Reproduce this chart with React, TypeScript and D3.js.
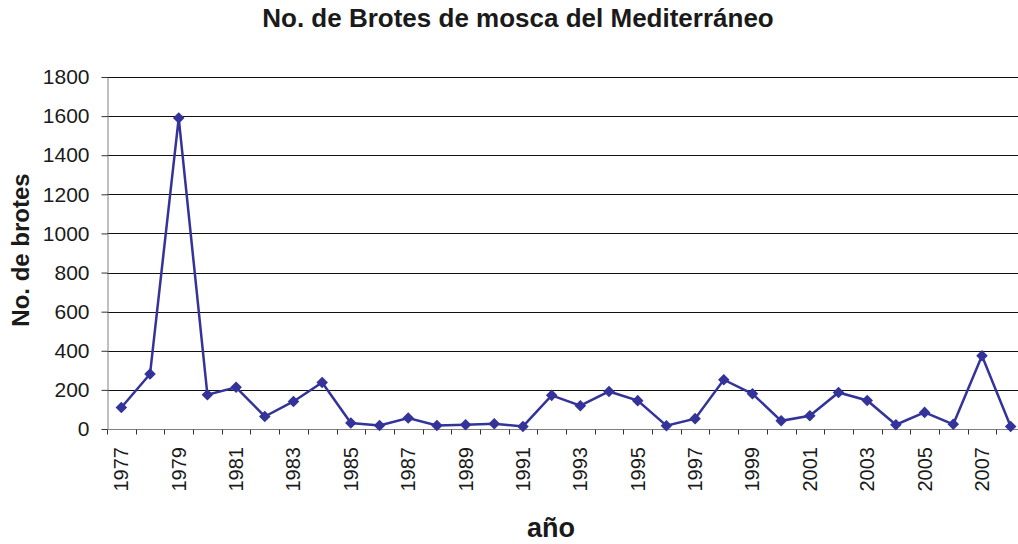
import React, { useEffect, useRef } from 'react';
import * as d3 from 'd3';

const years = d3.range(1977, 2009).map(String);
const brotes = [
  110, 281, 1590, 175, 213, 64, 141, 238, 31, 18,
  56, 18, 22, 27, 13, 172, 119, 192, 145, 17,
  53, 252, 180, 42, 68, 187, 146, 22, 85, 24,
  375, 13,
];
const yTicks = [0, 200, 400, 600, 800, 1000, 1200, 1400, 1600, 1800];
const xLabels = years.filter((d, i) => i % 2 === 0);

const width = 1018;
const height = 544;
const margin = { top: 77, right: -7, bottom: 115, left: 107 };
const font = 'Arial, "Liberation Sans", sans-serif';

function Chart() {
  const node = useRef<SVGSVGElement | null>(null);

  useEffect(() => {
    const svg = d3.select(node.current);
    svg.selectAll('*').remove();

    const x = d3.scaleBand<string>()
      .domain(years)
      .range([margin.left, width - margin.right]);
    const y = d3.scaleLinear()
      .domain([0, 1800])
      .range([height - margin.bottom, margin.top]);

    // gridlines
    svg.append('g')
      .selectAll('line')
      .data(yTicks.filter(d => d > 0))
      .enter()
      .append('line')
      .attr('x1', margin.left)
      .attr('x2', width - margin.right)
      .attr('y1', d => Math.round(y(d)) + 0.5)
      .attr('y2', d => Math.round(y(d)) + 0.5)
      .attr('stroke', '#111')
      .attr('stroke-width', 1);

    // y axis
    const yAxis = svg.append('g')
      .attr('transform', `translate(${margin.left + 0.5}, 0)`)
      .call(d3.axisLeft(y).tickValues(yTicks).tickFormat(d3.format('d')).tickSize(6).tickPadding(12).tickSizeOuter(0));
    yAxis.select('.domain').attr('stroke', '#808080');
    yAxis.selectAll('.tick line').attr('stroke', '#333');
    yAxis.selectAll('.tick text')
      .attr('font-family', font)
      .attr('font-size', 21)
      .attr('fill', '#1a1a1a');

    // x axis: ticks on category boundaries
    const baseY = Math.round(y(0)) + 0.5;
    svg.append('line')
      .attr('x1', margin.left)
      .attr('x2', width - margin.right)
      .attr('y1', baseY)
      .attr('y2', baseY)
      .attr('stroke', '#808080');
    svg.append('g')
      .selectAll('line')
      .data(years)
      .enter()
      .append('line')
      .attr('x1', d => Math.round(x(d)!) + 0.5)
      .attr('x2', d => Math.round(x(d)!) + 0.5)
      .attr('y1', baseY)
      .attr('y2', baseY + 5)
      .attr('stroke', '#333');

    svg.append('g')
      .selectAll('text')
      .data(xLabels)
      .enter()
      .append('text')
      .attr('transform', d => `translate(${x(d)! + x.bandwidth() / 2}, 447) rotate(-90)`)
      .attr('text-anchor', 'end')
      .attr('dy', '0.35em')
      .attr('font-family', font)
      .attr('font-size', 20)
      .attr('fill', '#1a1a1a')
      .text(d => d);

    // series
    const cx = (i: number) => x(years[i])! + x.bandwidth() / 2;
    const line = d3.line<number>()
      .x((d, i) => cx(i))
      .y(d => y(d));
    svg.append('path')
      .datum(brotes)
      .attr('d', line)
      .attr('fill', 'none')
      .attr('stroke', '#333399')
      .attr('stroke-width', 2.5);

    const diamond = d3.symbol().type(d3.symbolDiamond2).size(85);
    svg.append('g')
      .selectAll('path')
      .data(brotes)
      .enter()
      .append('path')
      .attr('d', diamond)
      .attr('transform', (d, i) => `translate(${cx(i)}, ${y(d)})`)
      .attr('fill', '#333399');

    // titles
    svg.append('text')
      .attr('x', 518)
      .attr('y', 27)
      .attr('text-anchor', 'middle')
      .attr('font-family', font)
      .attr('font-weight', 'bold')
      .attr('font-size', 26)
      .attr('fill', '#1a1a1a')
      .text('No. de Brotes de mosca del Mediterráneo');

    svg.append('text')
      .attr('transform', 'translate(29, 250) rotate(-90)')
      .attr('text-anchor', 'middle')
      .attr('font-family', font)
      .attr('font-weight', 'bold')
      .attr('font-size', 24)
      .attr('fill', '#1a1a1a')
      .text('No. de brotes');

    svg.append('text')
      .attr('x', 551)
      .attr('y', 537)
      .attr('text-anchor', 'middle')
      .attr('font-family', font)
      .attr('font-weight', 'bold')
      .attr('font-size', 27)
      .attr('fill', '#1a1a1a')
      .text('año');
  }, []);

  return (
    <svg
      ref={node}
      width={width}
      height={height}
      style={{ position: 'absolute', left: 0, top: 0, background: '#fff' }}
    />
  );
}

export default function App() {
  return <Chart />;
}
